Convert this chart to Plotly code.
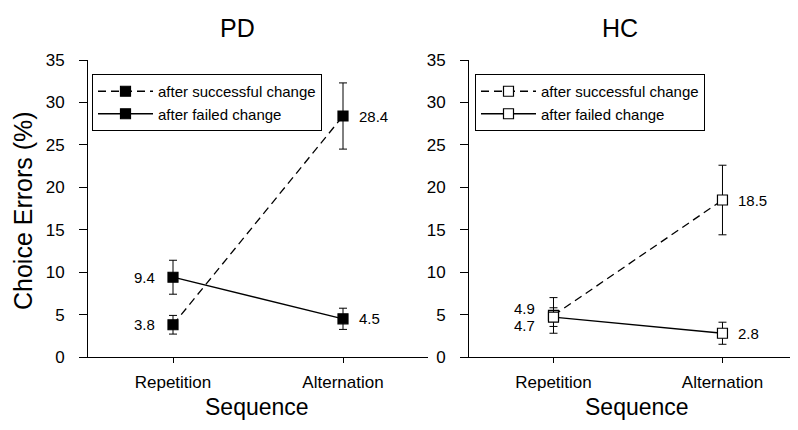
import plotly.graph_objects as go

categories = ["Repetition", "Alternation"]
series_names = ["after successful change", "after failed change"]

pd_success = [3.8, 28.4]
pd_success_err = [1.1, 3.9]
pd_failed = [9.4, 4.5]
pd_failed_err = [2.0, 1.25]

hc_success = [4.9, 18.5]
hc_success_err = [2.1, 4.1]
hc_failed = [4.7, 2.8]
hc_failed_err = [1.1, 1.3]

y_ticks = [0, 5, 10, 15, 20, 25, 30, 35]
panel_titles = ["PD", "HC"]
x_title = "Sequence"
y_title = "Choice Errors (%)"

W, H = 798, 430
OFF = 8  # page body margin offset
FONT = "Arial, Liberation Sans, sans-serif"

def px_x(p):
    return (p - OFF) / W

def px_y(p):
    return 1 - (p - OFF) / H

fig = go.Figure()

panels = [
    dict(xa="x", ya="y", legend="legend", filled=True,
         data=[(pd_success, pd_success_err, "8px,5px"), (pd_failed, pd_failed_err, "solid")]),
    dict(xa="x2", ya="y2", legend="legend2", filled=False,
         data=[(hc_success, hc_success_err, "8px,5px"), (hc_failed, hc_failed_err, "solid")]),
]

for p in panels:
    for name, (vals, errs, dash) in zip(series_names, p["data"]):
        fig.add_trace(go.Scatter(
            x=categories, y=vals, name=name, xaxis=p["xa"], yaxis=p["ya"],
            legend=p["legend"], mode="lines+markers",
            line=dict(color="black", width=1.3, dash=dash),
            marker=dict(symbol="square", size=10,
                        color="black" if p["filled"] else "white",
                        line=dict(color="black", width=1.2)),
            error_y=dict(type="data", array=errs, visible=True,
                         color="black", thickness=1, width=4),
            cliponaxis=False,
        ))

ydom = [px_y(357), px_y(60)]
axis_common = dict(showline=True, linecolor="black", linewidth=1, showgrid=False,
                   zeroline=False, ticks="outside", tickcolor="black", automargin=False,
                   tickfont=dict(family=FONT, size=17, color="black"))

fig.update_layout(
    template="none",
    width=W, height=H, autosize=False,
    margin=dict(l=0, r=0, t=0, b=0, pad=0, autoexpand=False),
    paper_bgcolor="white", plot_bgcolor="white",
    font=dict(family=FONT, color="black"),
    xaxis=dict(domain=[px_x(88), px_x(428)], range=[-0.5, 1.5], anchor="y",
               type="category", ticklen=5, ticklabelstandoff=5, **axis_common),
    yaxis=dict(domain=ydom, range=[0, 35], tickvals=y_ticks, anchor="x",
               ticklen=8, ticklabelstandoff=11, **axis_common),
    xaxis2=dict(domain=[px_x(469), px_x(798)], range=[-0.5, 1.447], anchor="y2",
                type="category", ticklen=5, ticklabelstandoff=5, **axis_common),
    yaxis2=dict(domain=ydom, range=[0, 35], tickvals=y_ticks, anchor="x2",
                ticklen=8, ticklabelstandoff=11, **axis_common),
    legend=dict(x=px_x(92), y=px_y(74), xanchor="left", yanchor="top",
                bordercolor="black", borderwidth=1, bgcolor="white",
                font=dict(family=FONT, size=15, color="black"),
                itemwidth=55, tracegroupgap=0),
    legend2=dict(x=px_x(475), y=px_y(74), xanchor="left", yanchor="top",
                 bordercolor="black", borderwidth=1, bgcolor="white",
                 font=dict(family=FONT, size=15, color="black"),
                 itemwidth=55, tracegroupgap=0),
    showlegend=True,
)

annotations = []
# panel titles
for title, xc in zip(panel_titles, [237, 620]):
    annotations.append(dict(text=title, x=px_x(xc), y=px_y(28), xref="paper", yref="paper",
                            showarrow=False, xanchor="center", yanchor="middle",
                            font=dict(family=FONT, size=25, color="black")))
# x titles
for xc in [257, 637]:
    annotations.append(dict(text=x_title, x=px_x(xc), y=px_y(407), xref="paper", yref="paper",
                            showarrow=False, xanchor="center", yanchor="middle",
                            font=dict(family=FONT, size=23, color="black")))
# y title
annotations.append(dict(text=y_title, x=px_x(23), y=px_y(211), xref="paper", yref="paper",
                        showarrow=False, textangle=-90, xanchor="center", yanchor="middle",
                        font=dict(family=FONT, size=25, color="black")))

# data labels
label_shifts = {
    ("x", 0, 0): 0, ("x", 1, 0): 0, ("x", 0, 1): 0, ("x", 1, 1): 0,
    ("x2", 0, 0): 7, ("x2", 1, 0): -8, ("x2", 0, 1): 0, ("x2", 1, 1): 0,
}
for p in panels:
    for si, (vals, errs, dash) in enumerate(p["data"]):
        for ci, (cat, v) in enumerate(zip(categories, vals)):
            left = ci == 0
            annotations.append(dict(
                text=f"{v:.1f}", x=cat, y=v, xref=p["xa"], yref=p["ya"],
                showarrow=False, xanchor="right" if left else "left", yanchor="middle",
                xshift=-16 if left else 14, yshift=label_shifts[(p["xa"], si, ci)],
                font=dict(family=FONT, size=15, color="black")))

fig.update_layout(annotations=annotations)

fig.write_html("out.html")
